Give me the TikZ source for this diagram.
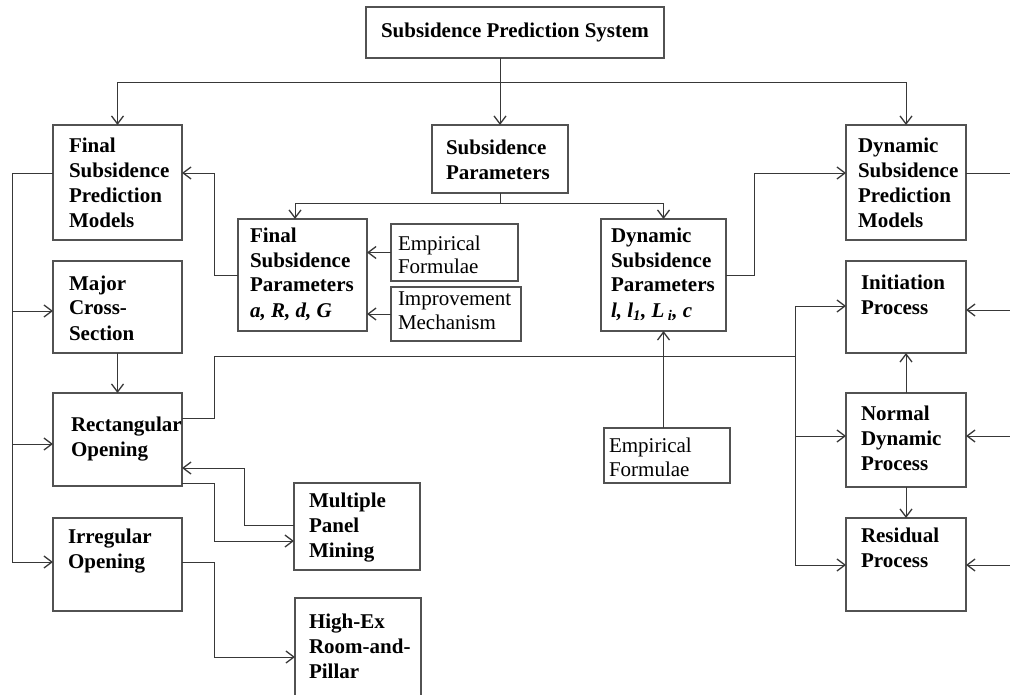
\documentclass[tikz,border=0pt]{standalone}
\usepackage{fontspec}
\setmainfont{Liberation Serif}
\usetikzlibrary{arrows.meta,calc}
\tikzset{
  box/.style={draw=black!68, line width=1.1pt, anchor=north west, inner sep=0pt, outer sep=0pt},
  lbl/.style={anchor=north west, inner sep=0pt, outer sep=0pt, align=left, font=\bfseries\fontsize{21}{25}\selectfont},
  nlbl/.style={anchor=north west, inner sep=0pt, outer sep=0pt, align=left, font=\fontsize{21}{24}\selectfont},
  link/.style={draw=black!78, line width=0.95pt},
  arr/.style={link, -{Straight Barb[length=8pt,width=12pt,line width=1.3pt]}}
}
\newcommand\bx[5]{\node[box, minimum width={#4-#2}, minimum height={#5-#3}] (#1) at (#2,#3) {};}
\newcommand\lab[5]{\node[#2] (#1) at (#3,#4-16) {\rule{0pt}{16pt}#5};}
\begin{document}
\begin{tikzpicture}[x=1pt,y=-1pt]
\useasboundingbox (0,0) rectangle (1010,695);
% boxes
\bx{sys}{366}{7}{664}{58}
\bx{fspm}{53}{125}{182}{240}
\bx{sp}{432}{125}{568}{193}
\bx{dspm}{846}{125}{966}{240}
\bx{fsparams}{238}{219}{367}{331}
\bx{efa}{391}{224}{518}{281}
\bx{im}{391}{287}{521}{341}
\bx{dsparams}{601}{219}{726}{331}
\bx{init}{846}{261}{966}{353}
\bx{normal}{846}{393}{966}{487}
\bx{resid}{846}{518}{966}{611}
\bx{efb}{604}{428}{730}{483}
\bx{mcs}{53}{261}{182}{353}
\bx{ro}{53}{393}{182}{486}
\bx{io}{53}{518}{182}{611}
\bx{mpm}{294}{483}{420}{570}
\bx{herp}{295}{598}{421}{716}
% labels
\node[lbl, anchor=base] (tsys) at (515,38) {Subsidence Prediction System};
\lab{tfspm}{lbl}{69}{153}{Final\\Subsidence\\Prediction\\Models}
\lab{tsp}{lbl}{446}{155}{Subsidence\\Parameters}
\lab{tdspm}{lbl}{858}{153}{Dynamic\\Subsidence\\Prediction\\Models}
\lab{tfsparams}{lbl}{250}{242}{Final\\Subsidence\\Parameters\\\textit{a, R, d, G}}
\lab{tefa}{nlbl}{398}{250}{Empirical\\Formulae}
\lab{tim}{nlbl}{398}{305}{Improvement\\Mechanism}
\lab{tdsparams}{lbl}{611}{242}{Dynamic\\Subsidence\\Parameters\\\textit{l, l\textsubscript{1}, L\,\textsubscript{i}, c}}
\lab{tinit}{lbl}{861}{290}{Initiation\\Process}
\lab{tnormal}{lbl}{861}{420}{Normal\\Dynamic\\Process}
\lab{tresid}{lbl}{861}{542}{Residual\\Process}
\lab{tefb}{nlbl}{609}{452}{Empirical\\Formulae}
\lab{tmcs}{lbl}{69}{290}{Major\\Cross-\\Section}
\lab{tro}{lbl}{71}{431}{Rectangular\\Opening}
\lab{tio}{lbl}{68}{543}{Irregular\\Opening}
\lab{tmpm}{lbl}{309}{507}{Multiple\\Panel\\Mining}
\lab{therp}{lbl}{309}{628}{High-Ex\\Room-and-\\Pillar}
% top distribution
\coordinate (bus) at (500,82);
\draw[arr] (sys.south -| sp.north) -- (sp.north);
\draw[arr] (bus) -| (fspm.north);
\draw[arr] (bus) -| (dspm.north);
% parameters distribution
\coordinate (busb) at (500,203);
\draw[link] (sp.south) -- (busb);
\draw[arr] (busb) -| ([xshift=-7.5pt]fsparams.north);
\draw[arr] (busb) -| (dsparams.north);
% inputs to final parameters
\draw[arr] (efa.west) -- (efa.west -| fsparams.east);
\draw[arr] (im.west) -- (im.west -| fsparams.east);
% parameters to models
\draw[arr] (fsparams.west) -- ++(-24,0) |- ([yshift=9.5pt]fspm.east);
\draw[arr] (dsparams.east) -- ++(28,0) |- ([yshift=9.5pt]dspm.west);
% empirical formulae to dynamic parameters
\draw[arr] (dsparams.south |- efb.north) -- (dsparams.south);
% right-hand feed
\coordinate (rout) at (1014,173);
\coordinate (rend) at (1014,565);
\draw[link] ([yshift=9.5pt]dspm.east) -- (rout) -- (rend);
\coordinate (ra) at (1014,310);
\coordinate (rb) at (1014,436);
\draw[arr] (ra) -- (ra -| init.east);
\draw[arr] (rb) -- (rb -| normal.east);
\draw[arr] (rend) -- (rend -| resid.east);
% process chain
\draw[arr] (normal.north) -- (init.south);
\draw[arr] (normal.south) -- (resid.north);
% rectangular opening to processes
\coordinate (jn) at (795,356);
\coordinate (la) at (795,306);
\coordinate (lb) at (795,436);
\coordinate (lc) at (795,565);
\draw[link] ([yshift=21.5pt]ro.east) -- ++(32,0) |- (jn);
\draw[link] (la) -- (lc);
\draw[arr] (la) -- (la -| init.west);
\draw[arr] (lb) -- (lb -| normal.west);
\draw[arr] (lc) -- (lc -| resid.west);
% left bus
\coordinate (lt) at (12,173);
\coordinate (lm) at (12,311);
\coordinate (lr) at (12,444);
\coordinate (lbot) at (12,562);
\draw[link] ([yshift=9.5pt]fspm.west) -- (lt) -- (lbot);
\draw[arr] (lm) -- (lm -| mcs.west);
\draw[arr] (lr) -- (lr -| ro.west);
\draw[arr] (lbot) -- (lbot -| io.west);
% left column
\draw[arr] (mcs.south) -- (ro.north);
\draw[arr] ([yshift=1.5pt]mpm.west) -- ++(-50,0) |- ([yshift=-28.5pt]ro.east);
\draw[arr] ([yshift=-43.5pt]ro.east) -- ++(32,0) |- ([yshift=-14.5pt]mpm.west);
\draw[arr] ([yshift=2.5pt]io.east) -- ++(32,0) |- ([yshift=-59pt]herp.north west);
\end{tikzpicture}
\end{document}
